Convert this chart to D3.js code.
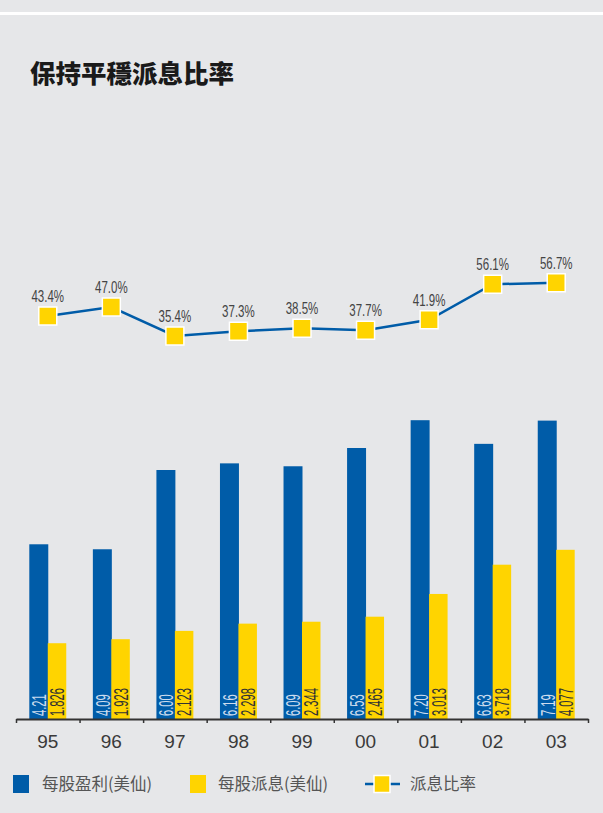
<!DOCTYPE html>
<html><head><meta charset="utf-8">
<script src="https://cdn.jsdelivr.net/npm/d3@7/dist/d3.min.js"></script>
<style>html,body{margin:0;padding:0;background:#e6e7e9;}svg{display:block;}</style>
</head><body>
<script>
const years = ["95","96","97","98","99","00","01","02","03"];
const eps = [4.21,4.09,6.00,6.16,6.09,6.53,7.20,6.63,7.19];
const dps = [1.826,1.923,2.123,2.298,2.344,2.465,3.013,3.718,4.077];
const payout = [43.4,47.0,35.4,37.3,38.5,37.7,41.9,56.1,56.7];
const seriesNames = ["每股盈利(美仙)","每股派息(美仙)","派息比率"];
const title = "保持平穩派息比率";

const W = 603, H = 813;
const BLUE = "#005ca8", YELLOW = "#ffd400", BG = "#e6e7e9";
const sans = "'Liberation Sans',Arial,sans-serif";

const svg = d3.select("body").append("svg").attr("width", W).attr("height", H);
svg.append("rect").attr("width", W).attr("height", H).attr("fill", BG);
svg.append("rect").attr("x",0).attr("y",12).attr("width",W).attr("height",3).attr("fill","#ffffff");

svg.append("text").attr("x",30).attr("y",83)
  .attr("font-family","'Noto Sans CJK TC','Noto Sans CJK SC',sans-serif")
  .attr("font-weight",900).attr("font-size",25.5).attr("fill","#1a1a1a")
  .text(title);

const x = d3.scaleBand().domain(years).range([16,588]).padding(0);
const xSub = d3.scaleBand().domain(["eps","dps"]).range([0, x.bandwidth()]).paddingInner(0).paddingOuter(0.72);
const yBar = d3.scaleLinear().domain([0,8]).range([719, 387]);
const yRatio = d3.scaleLinear().domain([30,60]).range([349.5, 274.5]);

// bars
const g = svg.append("g");
const groups = g.selectAll("g.yr").data(years).join("g").attr("class","yr")
  .attr("transform", d => `translate(${x(d)},0)`);
groups.append("rect").attr("x", xSub("eps")).attr("width", xSub.bandwidth()+0.5)
  .attr("y", (d,i)=>yBar(eps[i])).attr("height",(d,i)=>yBar(0)-yBar(eps[i])).attr("fill",BLUE);
groups.append("rect").attr("x", xSub("dps")).attr("width", xSub.bandwidth())
  .attr("y", (d,i)=>yBar(dps[i])).attr("height",(d,i)=>yBar(0)-yBar(dps[i])).attr("fill",YELLOW);

const f2 = d3.format(".2f"), f3 = d3.format(".3f");
groups.append("text")
  .attr("transform", `translate(${xSub("eps")+xSub.bandwidth()/2+0.5},${yBar(0)-3}) rotate(-90) scale(0.56,1)`)
  .attr("dy","0.36em").attr("font-family",sans).attr("font-size",20).attr("fill","#cddcee")
  .text((d,i)=>f2(eps[i]));
groups.append("text")
  .attr("transform", `translate(${xSub("dps")+xSub.bandwidth()/2},${yBar(0)-3}) rotate(-90) scale(0.56,1)`)
  .attr("dy","0.36em").attr("font-family",sans).attr("font-size",20).attr("fill","#333")
  .text((d,i)=>f3(dps[i]));

// axis
const xEdges = d3.scaleLinear().domain([0, years.length]).range(x.range());
const axG = svg.append("g").attr("transform",`translate(0,${yBar(0)})`)
  .call(d3.axisBottom(xEdges).tickValues(d3.range(years.length+1)).tickFormat("").tickSizeInner(4).tickSizeOuter(0));
axG.select(".domain").attr("stroke","#333").attr("stroke-width",2);
axG.selectAll(".tick line").attr("stroke","#333").attr("stroke-width",1.5);

const axL = svg.append("g").attr("transform",`translate(0,${yBar(0)})`)
  .call(d3.axisBottom(x).tickSize(0).tickPadding(0));
axL.select(".domain").remove();
axL.selectAll("text").attr("y",29).attr("dy",0).attr("font-family",sans)
  .attr("font-size",19).attr("fill","#3a3a3a");

// line
const pts = years.map((d,i)=>[x(d)+x.bandwidth()/2, yRatio(payout[i])]);
svg.append("path").datum(pts).attr("d", d3.line()).attr("fill","none")
  .attr("stroke",BLUE).attr("stroke-width",2.5);
svg.selectAll("rect.mk").data(pts).join("rect").attr("class","mk")
  .attr("x",d=>d[0]-9).attr("y",d=>d[1]-9).attr("width",18).attr("height",18)
  .attr("fill",YELLOW).attr("stroke","#fff").attr("stroke-width",1.5);
svg.selectAll("text.pl").data(pts).join("text").attr("class","pl")
  .attr("transform",d=>`translate(${d[0]},${d[1]-14}) scale(0.72,1)`).attr("text-anchor","middle")
  .attr("font-family",sans).attr("font-size",16).attr("fill","#444")
  .text((d,i)=>d3.format(".1f")(payout[i])+"%");

// legend
const lg = svg.append("g").attr("font-family","'Noto Sans CJK TC','Noto Sans CJK SC',sans-serif")
  .attr("font-size",16.5).attr("fill","#555");
const ly = 784;
lg.append("rect").attr("x",13).attr("y",ly-9).attr("width",16).attr("height",18).attr("fill",BLUE);
lg.append("text").attr("x",42).attr("y",ly).attr("dy","0.35em").text(seriesNames[0]);
lg.append("rect").attr("x",190).attr("y",ly-9).attr("width",16).attr("height",18).attr("fill",YELLOW);
lg.append("text").attr("x",218).attr("y",ly).attr("dy","0.35em").text(seriesNames[1]);
lg.append("line").attr("x1",365).attr("x2",400).attr("y1",ly).attr("y2",ly).attr("stroke",BLUE).attr("stroke-width",2.5);
lg.append("rect").attr("x",374).attr("y",ly-8.5).attr("width",16).attr("height",17).attr("fill",YELLOW).attr("stroke","#fff").attr("stroke-width",1.5);
lg.append("text").attr("x",410).attr("y",ly).attr("dy","0.35em").text(seriesNames[2]);
</script>
</body></html>
